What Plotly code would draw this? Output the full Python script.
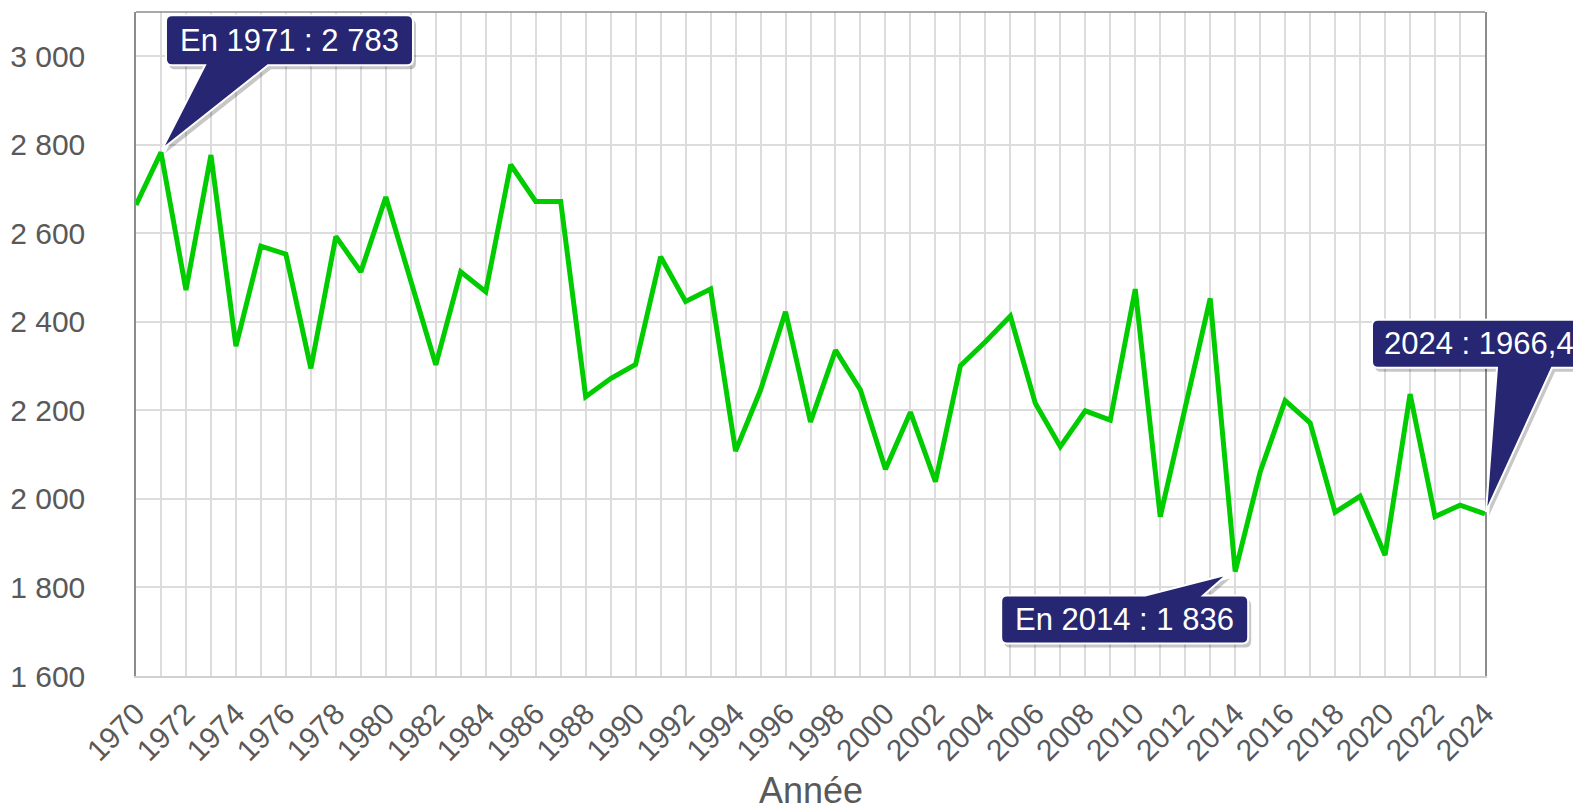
import plotly.graph_objects as go

# ---- data ----
years = list(range(1970, 2025))
values = [2664, 2783, 2472, 2777, 2345, 2571, 2553, 2295, 2593, 2513,
          2682, 2490, 2303, 2513, 2468, 2755, 2672, 2672, 2231, 2272,
          2304, 2547, 2446, 2474, 2108, 2246, 2423, 2174, 2336, 2246,
          2067, 2196, 2039, 2301, 2355, 2413, 2216, 2118, 2199, 2178,
          2474, 1960, 2210, 2453, 1836, 2061, 2222, 2172, 1970, 2006,
          1873, 2237, 1960, 1986, 1966.4]
x_title = "Année"
y_tickvals = [1600, 1800, 2000, 2200, 2400, 2600, 2800, 3000]

X_RANGE = [1970, 2024]
Y_RANGE = [1600, 3100]

NAVY = "#262672"
GREEN = "#00CC00"
GRID = "#DCDCDC"
TXT = "#595959"
FONT = "Liberation Sans, Arial, sans-serif"


def fmt_int(v):
    return f"{int(round(v)):,}".replace(",", " ")


def frac(v, rng):
    return (v - rng[0]) / (rng[1] - rng[0])


fig = go.Figure()
fig.add_trace(go.Scatter(x=years, y=values, mode="lines",
                         line=dict(color=GREEN, width=5),
                         hoverinfo="skip", showlegend=False))


def box_path(L, R, T, B, wedge, r=6):
    """wedge: ('top'|'bottom', base1_x, tip_x, tip_y, base2_x) in pixel offsets (y up)."""
    side, b1, tx, ty, b2 = wedge
    p = [f"M {L + r},{T}"]
    if side == "top":
        p += [f"L {b1},{T}", f"L {tx},{ty}", f"L {b2},{T}"]
    p += [f"L {R - r},{T}", f"Q {R},{T} {R},{T - r}", f"L {R},{B + r}", f"Q {R},{B} {R - r},{B}"]
    if side == "bottom":
        p += [f"L {b1},{B}", f"L {tx},{ty}", f"L {b2},{B}"]
    p += [f"L {L + r},{B}", f"Q {L},{B} {L},{B + r}", f"L {L},{T - r}", f"Q {L},{T} {L + r},{T}", "Z"]
    return " ".join(p)


def shifted(L, R, T, B, wedge, dx, dy):
    side, b1, tx, ty, b2 = wedge
    return box_path(L + dx, R + dx, T + dy, B + dy, (side, b1 + dx, tx + dx, ty + dy, b2 + dx))


callouts = [
    # year index, text, box (L, R, T, B), wedge, text anchor
    (1, f"En {years[1]} : {fmt_int(values[1])}", (5, 252, 137, 87), ("bottom", 107, 1, 3, 44), "center"),
    (44, f"En {years[44]} : {fmt_int(values[44])}", (-234, 13, -24, -72), ("top", -90, -8, -3, -32), "center"),
    (54, f"{years[54]} : {str(values[54]).replace('.', ',')}", (-113, 108, 194, 146), ("bottom", 67, 1, 2, 12), "left"),
]

shapes = []
annotations = []
for idx, text, (L, R, T, B), wedge, anchor in callouts:
    xa = frac(years[idx], X_RANGE)
    ya = frac(values[idx], Y_RANGE)
    common = dict(type="path", xref="paper", yref="paper", xsizemode="pixel", ysizemode="pixel",
                  xanchor=xa, yanchor=ya, layer="above")
    shapes.append(dict(common, path=shifted(L, R, T, B, wedge, 3, -4),
                       fillcolor="rgba(0,0,0,0.22)", line=dict(width=0)))
    shapes.append(dict(common, path=box_path(L, R, T, B, wedge),
                       fillcolor=NAVY, line=dict(color="white", width=2)))
    if anchor == "center":
        xs = (L + R) / 2
    else:
        xs = L + 10
    annotations.append(dict(xref="paper", yref="paper", x=xa, y=ya, text=text, showarrow=False,
                            xanchor=anchor, yanchor="middle", xshift=xs, yshift=(T + B) / 2,
                            font=dict(family=FONT, size=31, color="white")))

# x-axis title as a text below the tick labels
annotations.append(dict(xref="paper", yref="paper", x=0.5, y=0, text=x_title, showarrow=False,
                        xanchor="center", yanchor="middle", yshift=-114,
                        font=dict(family=FONT, size=36, color=TXT)))

# top border of plot area
shapes.append(dict(type="line", xref="paper", yref="paper", x0=0, x1=1, y0=1, y1=1,
                   line=dict(color="#8C8C8C", width=1.5), layer="above"))

fig.update_layout(
    width=1581, height=809,
    margin=dict(l=128, r=104, t=4, b=141, autoexpand=False),
    paper_bgcolor="white", plot_bgcolor="white",
    separators=", ",
    font=dict(family=FONT, color=TXT),
    shapes=shapes,
    annotations=annotations,
    xaxis=dict(range=X_RANGE, tick0=1970, dtick=2, tickformat="d",
               tickangle=-45, tickfont=dict(size=30, color=TXT),
               showgrid=True, gridcolor=GRID, gridwidth=1.5,
               minor=dict(dtick=1, tick0=1970, showgrid=True, gridcolor=GRID, gridwidth=1.5),
               showline=True, linecolor="#D0D0D0", linewidth=2, mirror=False,
               ticks="", ticklabelstandoff=6, zeroline=False, automargin=False),
    yaxis=dict(range=Y_RANGE, tickvals=y_tickvals, separatethousands=True,
               tickfont=dict(size=30, color=TXT),
               showgrid=True, gridcolor=GRID, gridwidth=1.5,
               showline=True, linecolor="#8C8C8C", linewidth=1.5, mirror=True,
               ticks="", ticklabelstandoff=43, zeroline=False, automargin=False),
)

fig.write_html("out.html")
